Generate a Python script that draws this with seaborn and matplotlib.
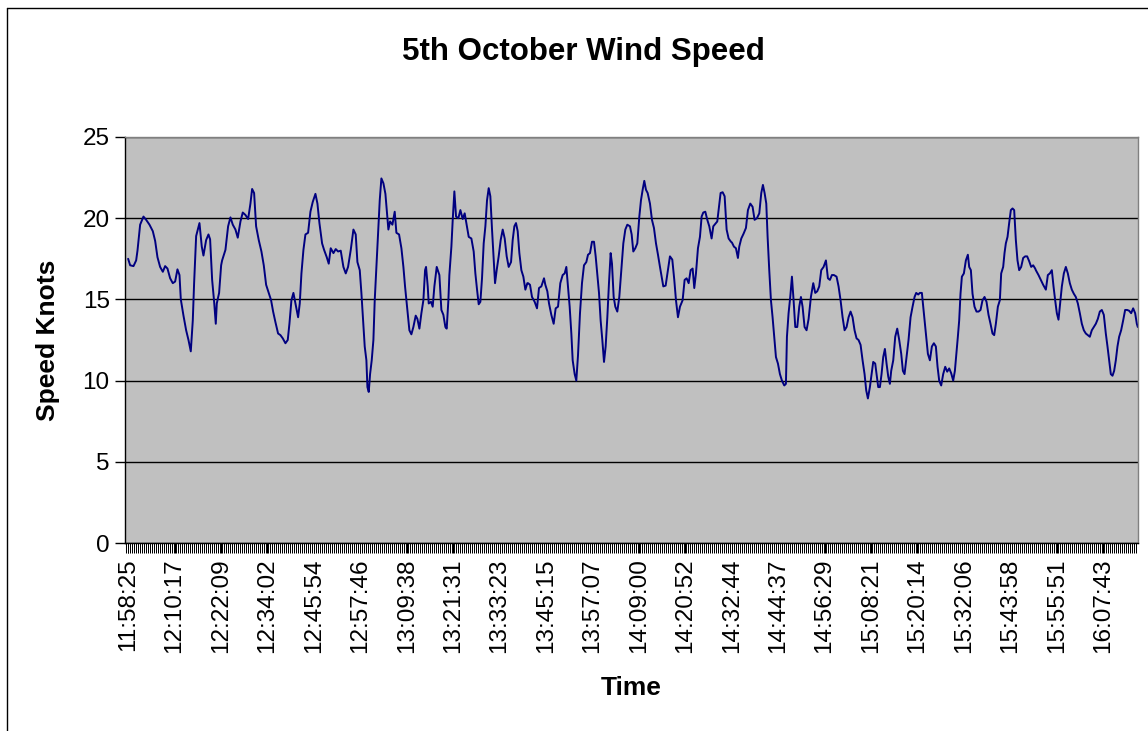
import matplotlib
matplotlib.use("Agg")
import matplotlib.pyplot as plt
import seaborn as sns
import pandas as pd
import numpy as np
from matplotlib.lines import Line2D

sns.set_style("white")
plt.rcParams['font.family'] = ['Liberation Sans', 'DejaVu Sans']
plt.rcParams['text.color'] = 'black'
plt.rcParams['xtick.color'] = 'black'
plt.rcParams['ytick.color'] = 'black'

# minutes after 11:58:25
minutes = [
    0, 0.52, 1.37, 2.05, 2.39, 3.07, 3.92, 4.61, 5.46, 6.31, 6.91, 7.50, 8.18, 8.87, 9.46,
    10.06, 10.74, 11.42, 12.02, 12.61, 13.13, 13.47, 14.15, 14.83, 15.43, 16.02, 16.53, 16.87,
    17.39, 18.24, 18.83, 19.26, 19.94, 20.54, 20.96, 21.48, 21.99, 22.41, 22.67, 23.26, 23.78,
    24.03, 24.88, 25.56, 26.16, 26.76, 27.44, 28.03, 28.72, 29.31, 29.99, 30.68, 31.27, 31.70,
    32.21, 32.72, 33.40, 34.08, 34.68, 35.28, 35.96, 36.55, 37.07, 37.66, 38.34, 38.94, 39.54,
    40.22, 40.81, 41.24, 41.75, 42.26, 42.77, 43.46, 43.88, 44.31, 44.82, 45.33, 46.01, 46.61,
    47.20, 47.89, 48.40, 48.91, 49.59,
    50.10, 50.78, 51.29, 51.80, 52.49, 53.08, 53.68, 54.36, 55.04, 55.64, 56.23, 56.92, 57.60,
    58.19, 58.62, 59.22, 59.64, 60.07, 60.49, 60.92, 61.18, 61.52, 61.86, 62.28, 62.71, 63.05,
    63.48, 63.90, 64.33, 64.75, 65.27, 65.78, 66.12, 66.54, 66.97, 67.57, 68.16, 68.59, 69.27,
    69.87, 70.38, 70.80, 71.40, 71.91, 72.42, 72.93, 73.53, 73.96, 74.47, 74.98, 75.49, 75.92,
    76.17, 76.60, 76.85, 77.45, 77.87, 78.30, 78.90, 79.58, 80.09, 80.60, 81.11, 81.45, 81.88,
    82.13, 82.65, 82.99, 83.41, 83.84, 84.43, 84.95, 85.54, 86.05, 86.56, 87.08, 87.76, 88.35,
    88.78, 89.21, 89.63, 90.06, 90.48, 90.91, 91.34, 91.76, 92.19, 92.61, 93.04, 93.47, 93.81,
    94.23, 94.74, 95.25, 95.77, 96.28, 96.79, 97.30, 97.90, 98.32, 98.75, 99.17, 99.60, 100.03,
    100.54, 101.05, 101.56, 102.07,
    102.24, 102.75, 103.26, 103.94, 104.54, 105.05, 105.65, 106.33, 106.67, 107.18, 107.61,
    108.20, 108.80, 109.31, 109.91, 110.50, 111.10, 111.61, 112.04, 112.46, 112.89, 113.32,
    113.66, 114.17, 114.59, 115.02, 115.53, 116.04, 116.55, 117.15, 117.58, 118.09, 118.60,
    119.11, 119.54, 119.96, 120.39, 120.81, 121.24, 121.67, 122.09, 122.52, 122.94, 123.37,
    123.71, 124.14, 124.56, 125.07, 125.58, 126.10, 126.61, 127.12, 127.63,
    128.31, 128.74, 129.16, 129.67, 130.18, 130.70, 131.12, 131.55, 131.97, 132.40, 132.83,
    133.42, 133.93, 134.44, 134.96, 135.47, 135.98, 136.49, 136.83, 137.43, 137.94, 138.53,
    139.13, 139.64, 140.07, 140.58, 141.09, 141.77, 142.28, 142.79, 143.31, 143.82, 144.33,
    144.75, 145.18, 145.69, 146.20, 146.63, 147.05, 147.57, 148.08, 148.59, 149.18, 149.61,
    150.12, 150.63, 151.06, 151.48, 152.00, 152.51, 153.02, 153.53, 154.13,
    154.38, 154.89, 155.40, 155.91, 156.25, 156.77, 157.36, 157.96, 158.47, 159.07, 159.66,
    160.17, 160.77, 161.37, 161.88, 162.30, 162.73, 163.16, 163.50, 163.92, 164.35, 164.77,
    165.20, 165.63, 166.14, 166.65, 167.16, 167.76, 168.18, 168.44, 168.86, 169.29, 169.72,
    170.14, 170.57, 171.08, 171.59, 172.02, 172.44, 172.95, 173.46, 173.98, 174.57, 175.17,
    175.68, 176.19, 176.70, 177.21, 177.81, 178.41, 178.92, 179.43, 179.94,
    180.45, 181.13, 181.64, 182.15, 182.67, 183.18, 183.69, 184.20, 184.71, 185.22, 185.73,
    186.24, 186.75, 187.27, 187.78, 188.29, 188.71, 189.14, 189.65, 190.08, 190.50, 191.01,
    191.36, 191.78, 192.21, 192.63, 193.06, 193.49, 193.91, 194.34, 194.76, 195.10, 195.62,
    196.13, 196.64, 197.15, 197.66, 198.09, 198.51, 199.02, 199.53, 200.05, 200.56, 201.07,
    201.49, 202.01, 202.43, 202.94, 203.45, 203.97, 204.48, 204.99, 205.50, 206.01,
    206.52, 206.95, 207.37, 207.88, 208.39, 208.91, 209.42, 209.93, 210.44, 210.95, 211.38,
    211.80, 212.14, 212.48, 212.82, 213.17, 213.68, 214.19, 214.70, 215.04, 215.47, 215.89,
    216.40, 216.91, 217.43, 217.94, 218.45, 218.96, 219.47, 219.98, 220.49, 221.00, 221.43,
    221.86, 222.37, 222.88, 223.22, 223.73, 224.07, 224.41, 224.84, 225.26, 225.69, 226.12,
    226.54, 226.97, 227.39, 227.82, 228.33, 228.84, 229.35, 229.86, 230.38, 230.89, 231.40,
    231.91,
    232.08, 232.76, 233.36, 233.95, 234.64, 235.15, 235.66, 236.17, 236.60, 237.02, 237.45,
    237.87, 238.30, 238.73, 239.24, 239.75, 240.26, 240.77, 241.28, 241.79, 242.30, 242.82,
    243.33, 243.84, 244.35, 244.86, 245.37, 245.88, 246.39, 246.90, 247.42, 247.93, 248.44,
    248.95, 249.46, 249.97, 250.40, 250.82, 251.25, 251.68, 252.10, 252.53, 252.95, 253.38,
    253.89, 254.40, 254.91, 255.42, 255.94, 256.45, 256.96, 257.47, 257.90, 258.15,
]

speed = [
    17.5, 17.1, 17.05, 17.4, 18.0, 19.6, 20.1, 19.9, 19.6, 19.2, 18.6, 17.6, 17.0, 16.7, 17.05,
    16.9, 16.3, 16.0, 16.1, 16.85, 16.5, 15.0, 14.0, 13.1, 12.5, 11.8, 13.7, 16.0,
    18.9, 19.7, 18.25, 17.7, 18.65, 19.0, 18.7, 16.2, 14.85, 13.5, 14.75, 15.4, 17.1,
    17.4, 18.05, 19.5, 20.05, 19.6, 19.3, 18.8, 19.8, 20.35, 20.2, 19.95, 20.9, 21.8,
    21.55, 19.5, 18.65, 17.95, 17.1, 15.9, 15.4, 14.95, 14.25, 13.6, 12.9, 12.8, 12.6,
    12.3, 12.5, 13.5, 14.95, 15.4, 14.75, 13.9, 14.75, 16.6, 18.05, 19.0, 19.1, 20.4,
    21.0, 21.5, 20.9, 19.7, 18.45,
    18.05, 17.6, 17.2, 18.15, 17.85, 18.1, 17.95, 18.0, 17.0, 16.6, 17.0, 18.05, 19.3,
    19.0, 17.3, 16.8, 15.4, 13.7, 12.1, 11.25, 9.6, 9.3, 10.4, 11.25, 12.5, 14.95,
    17.0, 19.1, 21.1, 22.45, 22.15, 21.5, 20.5, 19.3, 19.8, 19.6, 20.4, 19.1, 19.0,
    18.15, 17.0, 15.8, 14.35, 13.1, 12.85, 13.3, 14.0, 13.8, 13.2, 14.15, 14.95, 16.8,
    17.0, 15.8, 14.75, 14.85, 14.55, 15.8, 17.0, 16.5, 14.35, 14.05, 13.3, 13.2, 14.95,
    16.5, 18.25, 19.9, 21.65, 20.1, 20.0, 20.5, 19.95, 20.3, 19.6, 18.85, 18.75, 17.95,
    16.6, 15.6, 14.7, 14.85, 16.3, 18.45, 19.5, 21.1, 21.85, 21.35, 19.3, 17.45, 16.0,
    16.8, 17.65, 18.65, 19.3, 18.75, 17.65, 17.0, 17.3, 18.65, 19.5, 19.7, 19.2, 17.85,
    16.8, 16.4, 15.6, 16.0,
    16.0, 15.9, 15.15, 14.85, 14.45, 15.7, 15.8, 16.3, 15.9, 15.5, 14.75,
    14.05, 13.5, 14.45, 14.55, 16.0, 16.5, 16.6, 17.0, 15.8, 14.55, 12.9,
    11.25, 10.4, 10.0, 11.55, 14.15, 16.0, 17.1, 17.3, 17.75, 17.85, 18.55,
    18.55, 17.65, 16.5, 15.4, 13.7, 12.5, 11.15, 12.1, 13.9, 16.0, 17.85,
    17.2, 15.15, 14.55, 14.25, 15.15, 16.8, 18.45, 19.3, 19.6,
    19.5, 19.0, 17.95, 18.15, 18.45, 20.1, 21.1, 21.75, 22.3, 21.75, 21.55,
    20.9, 19.9, 19.4, 18.45, 17.75, 17.0, 16.3, 15.8, 15.85, 16.7, 17.65,
    17.45, 16.2, 14.95, 13.9, 14.55, 14.95, 16.2, 16.3, 16.0, 16.8, 16.9,
    15.7, 16.6, 18.15, 18.85, 20.1, 20.35, 20.4, 19.9, 19.5, 18.75, 19.5,
    19.65, 19.8, 20.7, 21.55, 21.6, 21.35, 19.3, 18.75, 18.55,
    18.5, 18.25, 18.15, 17.55, 18.25, 18.75, 19.05, 19.4, 20.5, 20.9, 20.7,
    19.9, 20.0, 20.3, 21.55, 22.05, 21.55, 20.9, 18.85, 16.8, 14.95, 13.9,
    12.7, 11.45, 11.05, 10.4, 10.0, 9.7, 9.8, 12.7, 14.15, 15.15, 16.4,
    14.95, 13.3, 13.3, 14.55, 15.15, 14.55, 13.3, 13.1, 13.8, 15.15, 16.0,
    15.4, 15.5, 15.8, 16.8, 17.0, 17.4, 16.3, 16.2, 16.5,
    16.5, 16.4, 15.8, 14.95, 13.9, 13.1, 13.3, 13.9, 14.25, 13.9, 13.1,
    12.6, 12.5, 12.2, 11.25, 10.4, 9.4, 8.9, 9.6, 10.4, 11.15, 11.05,
    10.4, 9.6, 9.6, 10.4, 11.45, 11.95, 11.05, 10.25, 9.8, 10.6, 11.25,
    12.7, 13.2, 12.5, 11.65, 10.6, 10.4, 11.45, 12.5, 13.9, 14.55, 15.15,
    15.4, 15.3, 15.4, 15.4, 14.15, 12.9, 11.65, 11.25, 12.1, 12.3,
    12.1, 10.85, 10.0, 9.7, 10.4, 10.85, 10.55, 10.75, 10.45, 10.0, 10.6,
    11.75, 12.7, 13.7, 15.35, 16.4, 16.6, 17.4, 17.75, 17.0, 16.8, 15.35,
    14.55, 14.25, 14.25, 14.35, 14.95, 15.15, 14.85, 14.05, 13.5, 12.9, 12.8,
    13.5, 14.55, 14.95, 16.6, 17.0, 17.85, 18.45, 18.85, 19.7, 20.5, 20.6,
    20.5, 18.65, 17.4, 16.8, 17.0, 17.55, 17.65, 17.65, 17.35, 17.0, 17.1,
    16.9,
    16.8, 16.5, 16.2, 15.9, 15.6, 16.5, 16.6, 16.8, 15.8, 14.95, 14.15,
    13.75, 14.75, 15.8, 16.6, 17.0, 16.6, 16.0, 15.6, 15.35, 15.15, 14.75,
    14.15, 13.5, 13.1, 12.9, 12.8, 12.7, 13.1, 13.3, 13.5, 13.8, 14.25,
    14.35, 14.05, 12.9, 12.1, 11.25, 10.4, 10.3, 10.6, 11.25, 12.1, 12.7,
    13.1, 13.7, 14.35, 14.35, 14.3, 14.15, 14.45, 14.15, 13.5, 13.3,
]

tick_labels = [
    "11:58:25", "12:10:17", "12:22:09", "12:34:02", "12:45:54", "12:57:46",
    "13:09:38", "13:21:31", "13:33:23", "13:45:15", "13:57:07", "14:09:00",
    "14:20:52", "14:32:44", "14:44:37", "14:56:29", "15:08:21", "15:20:14",
    "15:32:06", "15:43:58", "15:55:51", "16:07:43",
]

df = pd.DataFrame({"minutes": minutes, "speed": speed})

tick_times = pd.to_datetime(tick_labels, format="%H:%M:%S")
tick_pos = (tick_times - tick_times[0]).total_seconds() / 60

W, H = 1148, 731
fig = plt.figure(figsize=(W / 100, H / 100), dpi=100)
ax = fig.add_axes([125 / W, 1 - 543 / H, (1138 - 125) / W, (543 - 137) / H])

sns.lineplot(data=df, x="minutes", y="speed", color="#000080", linewidth=1.4,
             sort=False, ax=ax)

x_min, x_max = -0.8, 258.2
ax.set_facecolor("#C0C0C0")
ax.set_xlim(x_min, x_max)
ax.set_ylim(0, 25)
ax.set_yticks(range(0, 26, 5))
ax.yaxis.grid(True, color="black", linewidth=1)
ax.set_axisbelow(True)

# dense category tick marks, one every 2 pixels
step = 2 * (x_max - x_min) / (1138 - 125)
ax.set_xticks(tick_pos)
ax.set_xticklabels(tick_labels, rotation=90, fontsize=17.5)
ax.set_xticks(np.arange(x_min + step / 2, x_max, step), minor=True)
ax.tick_params(axis="x", which="both", direction="out", length=7, width=0.72,
               color="black", bottom=True, pad=4)
ax.tick_params(axis="y", direction="out", length=7, width=1, color="black",
               left=True, labelsize=17.5, pad=4)

for side in ["left", "bottom"]:
    ax.spines[side].set_color("black")
    ax.spines[side].set_linewidth(1)
for side in ["top", "right"]:
    ax.spines[side].set_color("#808080")
    ax.spines[side].set_linewidth(1)

ax.set_xlabel("")
ax.set_ylabel("")

fig.text(583 / W, 1 - 52 / H, "5th October Wind Speed", fontsize=22.5,
         fontweight="bold", ha="center", va="center")
fig.text(48 / W, 1 - 340 / H, "Speed Knots", fontsize=19, fontweight="bold",
         rotation=90, ha="center", va="center")
fig.text(631 / W, 1 - 688 / H, "Time", fontsize=19, fontweight="bold",
         ha="center", va="center")

# chart area border
fig.add_artist(Line2D([7 / W, 7 / W], [0, 1 - 8 / H], color="black", linewidth=1))
fig.add_artist(Line2D([7 / W, 1], [1 - 8 / H, 1 - 8 / H], color="black", linewidth=1))

fig.savefig("out.png", dpi=100)
